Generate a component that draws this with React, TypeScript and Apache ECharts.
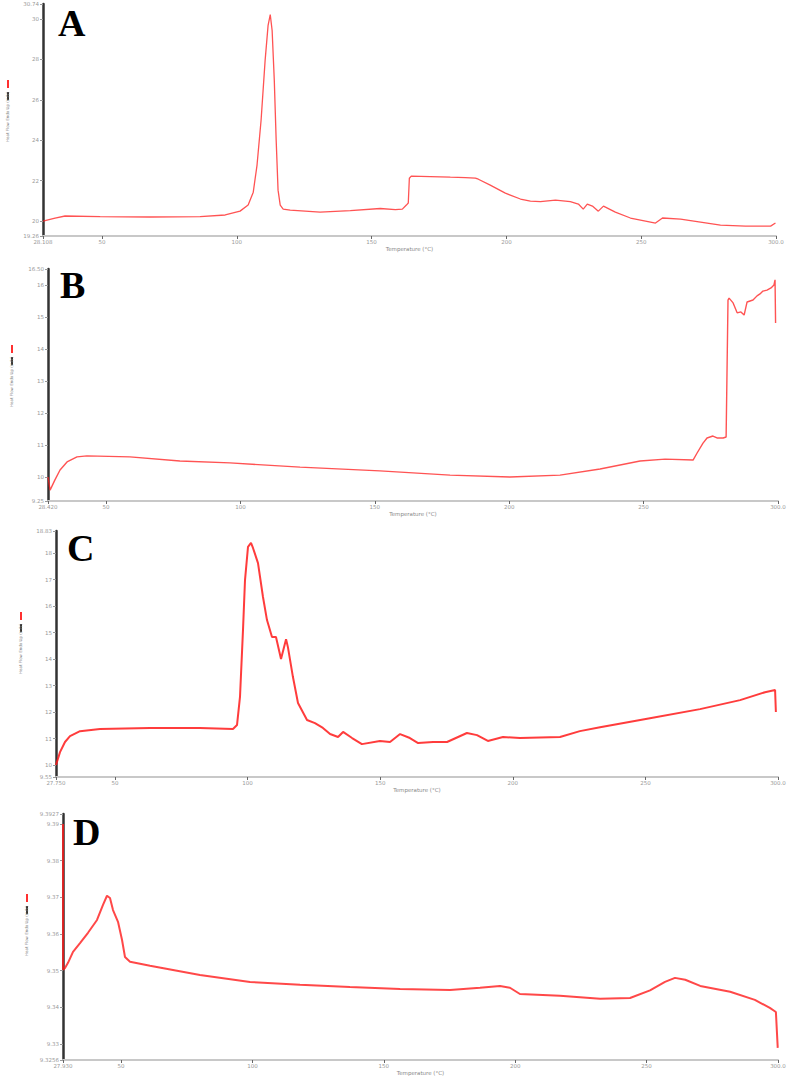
import React, { useEffect, useRef } from "react";
import * as echarts from "echarts";

// ---- Panel A ----
const tempA = [28.1, 32.6, 36.3, 49.3, 67.8, 86.4, 95.7, 101.2, 104.2, 106.1, 107.5, 109.0, 110.5, 111.6, 112.4, 113.1, 113.9, 114.6, 115.3, 116.1, 117.2, 119.8, 130.9, 142.1, 153.2, 158.8, 161.4, 162.9, 163.6, 164.0, 164.7, 171.8, 179.2, 184.8, 188.5, 189.6, 194.0, 199.6, 205.2, 208.9, 212.6, 218.2, 223.7, 226.7, 228.5, 230.0, 231.9, 234.1, 236.0, 240.4, 246.0, 251.6, 255.3, 257.9, 264.6, 272.0, 279.4, 288.7, 298.0, 299.8];
const flowA = [20.0, 20.15, 20.25, 20.22, 20.2, 20.22, 20.3, 20.49, 20.79, 21.43, 22.77, 24.99, 27.95, 29.68, 30.22, 29.43, 26.96, 24.0, 21.53, 20.79, 20.59, 20.54, 20.44, 20.52, 20.62, 20.57, 20.59, 20.79, 20.89, 22.12, 22.22, 22.2, 22.17, 22.15, 22.12, 22.07, 21.78, 21.38, 21.09, 20.99, 20.96, 21.04, 20.96, 20.84, 20.59, 20.84, 20.74, 20.49, 20.74, 20.44, 20.15, 20.0, 19.9, 20.15, 20.1, 19.95, 19.8, 19.75, 19.75, 19.9];

// ---- Panel B ----
const tempB = [28.42, 29.2, 31.0, 32.9, 35.5, 39.2, 42.9, 58.9, 77.5, 96.1, 122.2, 151.9, 178.0, 200.3, 218.9, 233.8, 248.7, 258.0, 268.4, 269.9, 272.1, 273.6, 275.8, 277.3, 279.6, 280.7, 281.4, 281.8, 283.3, 284.8, 286.2, 287.4, 288.5, 290.7, 292.2, 293.3, 294.4, 295.9, 297.4, 298.5, 298.9, 299.1];
const flowB = [10.0, 9.59, 9.91, 10.22, 10.47, 10.63, 10.66, 10.63, 10.5, 10.44, 10.31, 10.19, 10.06, 10.0, 10.06, 10.25, 10.5, 10.56, 10.53, 10.75, 11.06, 11.22, 11.28, 11.22, 11.22, 11.25, 15.53, 15.59, 15.44, 15.13, 15.16, 15.06, 15.47, 15.53, 15.66, 15.72, 15.81, 15.84, 15.91, 16.0, 16.16, 14.81];

// ---- Panel C ----
const tempC = [27.75, 29.26, 31.14, 33.03, 36.8, 44.34, 63.19, 82.05, 94.49, 96.0, 97.13, 98.26, 99.02, 100.15, 101.28, 102.03, 103.92, 105.8, 107.31, 109.2, 110.7, 112.6, 114.5, 115.2, 117.1, 119.0, 122.4, 125.4, 128.4, 131.1, 134.1, 136.0, 139.4, 143.1, 149.9, 153.7, 157.5, 161.2, 164.3, 169.9, 175.2, 182.7, 186.5, 190.6, 196.3, 202.7, 217.8, 225.3, 232.9, 251.7, 270.6, 285.7, 295.1, 298.9, 299.2];
const flowC = [10.0, 10.49, 10.87, 11.09, 11.28, 11.36, 11.4, 11.4, 11.36, 11.51, 12.57, 15.09, 16.98, 18.23, 18.38, 18.19, 17.62, 16.34, 15.47, 14.83, 14.83, 14.0, 14.75, 14.45, 13.32, 12.34, 11.7, 11.58, 11.4, 11.17, 11.06, 11.25, 11.02, 10.79, 10.91, 10.87, 11.17, 11.02, 10.83, 10.87, 10.87, 11.21, 11.13, 10.91, 11.06, 11.02, 11.06, 11.28, 11.43, 11.77, 12.11, 12.45, 12.75, 12.83, 12.0];

// ---- Panel D ----
const tempD = [27.93, 27.95, 28.69, 29.83, 31.74, 34.4, 37.44, 40.87, 43.15, 44.67, 45.81, 46.96, 48.86, 50.38, 51.52, 53.43, 61.04, 80.06, 99.09, 118.1, 137.1, 156.2, 175.2, 186.6, 194.2, 198.0, 201.8, 217.0, 232.3, 243.7, 251.3, 257.0, 260.8, 264.7, 270.4, 281.8, 291.2, 296.9, 299.2, 299.9];
const flowD = [9.39, 9.3502, 9.3507, 9.3521, 9.3551, 9.3575, 9.3603, 9.3638, 9.3679, 9.3704, 9.3698, 9.3665, 9.3633, 9.3584, 9.3537, 9.3524, 9.3513, 9.3488, 9.3469, 9.3461, 9.3455, 9.345, 9.3447, 9.3453, 9.3458, 9.3453, 9.3436, 9.3431, 9.3423, 9.3425, 9.3446, 9.3469, 9.348, 9.3475, 9.3458, 9.3442, 9.342, 9.3398, 9.3387, 9.3289];

// axis extents and tick steps
const xMins = [28.108, 28.42, 27.75, 27.93];
const xMax = 300;
const xStep = 50;
const yMins = [19.26, 9.25, 9.55, 9.3256];
const yMaxs = [30.74, 16.5, 18.83, 9.3927];
const ySteps = [2, 1, 1, 0.01];
const yDecimals = [2, 2, 2, 4];
const panelLetters = ["A", "B", "C", "D"];
const xName = "Temperature (°C)";
const yName = "Heat Flow Endo Up (mW)";

const grids = [
  { left: 43, top: 4, width: 733, height: 232 },
  { left: 48, top: 269, width: 730, height: 232 },
  { left: 56, top: 531, width: 722, height: 246 },
  { left: 63, top: 814, width: 715, height: 246 },
];
const lineWidths = [1.3, 1.4, 2, 2];
const lineOpacity = [0.75, 0.75, 0.85, 0.8];
const letterPos = [
  { x: 58, y: 4 },
  { x: 60, y: 266 },
  { x: 67, y: 529 },
  { x: 73, y: 813 },
];
const legendPos = [
  { x: 7, y: 80 },
  { x: 11, y: 345 },
  { x: 20, y: 612 },
  { x: 26, y: 894 },
];

const zip = (a: number[], b: number[]) => a.map((t, i) => [t, b[i]]);

export default function App() {
  const ref = useRef<HTMLDivElement>(null);
  useEffect(() => {
    if (!ref.current) return;
    const chart = echarts.init(ref.current, undefined, { renderer: "svg" });
    const datas = [zip(tempA, flowA), zip(tempB, flowB), zip(tempC, flowC), zip(tempD, flowD)];
    const graphic: any[] = [];
    for (let i = 0; i < 4; i++) {
      graphic.push({
        type: "text",
        left: letterPos[i].x,
        top: letterPos[i].y,
        style: {
          text: panelLetters[i],
          font: "bold 38px 'Liberation Serif', 'Times New Roman', serif",
          fill: "#000",
          textShadowColor: "rgba(210,160,60,0.7)",
          textShadowOffsetX: -1,
          textShadowOffsetY: 0,
          textShadowBlur: 0,
        },
        z: 10,
      });
      const lp = legendPos[i];
      graphic.push({ type: "rect", shape: { x: lp.x, y: lp.y, width: 2, height: 8 }, style: { fill: "#ff3030" } });
      graphic.push({ type: "rect", shape: { x: lp.x, y: lp.y + 12, width: 2, height: 8 }, style: { fill: "#333" } });
      graphic.push({
        type: "text",
        x: lp.x - 2,
        y: lp.y + 62,
        rotation: Math.PI / 2,
        style: {
          text: yName,
          font: "4px 'DejaVu Sans', sans-serif",
          fill: "#777",
          textAlign: "left",
          textVerticalAlign: "top",
        },
      });
    }
    chart.setOption({
      animation: false,
      backgroundColor: "#fff",
      grid: grids.map((g) => ({ ...g, containLabel: false, outerBoundsMode: "none" })),
      xAxis: grids.map((_, i) => ({
        type: "value",
        gridIndex: i,
        min: xMins[i],
        max: xMax,
        minInterval: xStep,
        maxInterval: xStep,
        name: xName,
        nameLocation: "middle",
        nameGap: 8,
        nameTextStyle: { fontSize: 5.5, color: "#888", fontFamily: "DejaVu Sans" },
        axisLine: { show: true, lineStyle: { color: "#c8c8c8", width: 2 } },
        axisTick: { show: true, length: 3, lineStyle: { color: "#666", width: 1 } },
        axisLabel: {
          fontSize: 5.5,
          color: "#999",
          margin: 3,
          fontFamily: "DejaVu Sans",
          showMinLabel: true,
          showMaxLabel: true,
          formatter: (v: number) =>
            Math.abs(v - xMins[i]) < 1e-6 ? xMins[i].toFixed(3) : v === xMax ? xMax.toFixed(1) : String(v),
        },
        splitLine: { show: false },
      })),
      yAxis: grids.map((_, i) => ({
        type: "value",
        gridIndex: i,
        min: yMins[i],
        max: yMaxs[i],
        minInterval: ySteps[i],
        maxInterval: ySteps[i],
        axisLine: { show: true, lineStyle: { color: "#333", width: 2.5 } },
        axisTick: { show: true, length: 3, lineStyle: { color: "#999", width: 1 } },
        axisLabel: {
          fontSize: 5.5,
          color: "#999",
          margin: 4,
          fontFamily: "DejaVu Sans",
          showMinLabel: true,
          showMaxLabel: true,
          formatter: (v: number) =>
            Math.abs(v - yMins[i]) < 1e-9 || Math.abs(v - yMaxs[i]) < 1e-9
              ? v.toFixed(yDecimals[i])
              : v.toFixed(ySteps[i] < 0.1 ? 2 : ySteps[i] < 1 ? 1 : 0),
        },
        splitLine: { show: false },
      })),
      series: datas.map((d, i) => ({
        type: "line",
        xAxisIndex: i,
        yAxisIndex: i,
        data: d,
        showSymbol: false,
        symbol: "none",
        smooth: false,
        z: 5,
        lineStyle: { color: "#ff1a1a", width: lineWidths[i], opacity: lineOpacity[i] },
      })),
      graphic,
    });
    return () => chart.dispose();
  }, []);
  return (
    <div
      ref={ref}
      style={{ position: "fixed", left: 0, top: 0, width: 790, height: 1076, background: "#fff" }}
    />
  );
}
